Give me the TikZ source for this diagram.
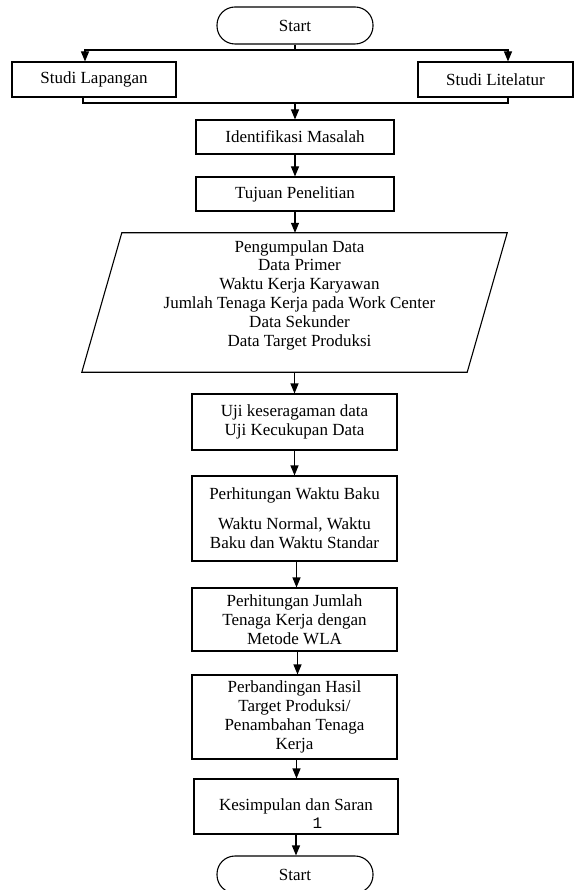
\documentclass[tikz,border=0pt]{standalone}
\usepackage{fontspec}
\setmainfont{Liberation Serif}
\newfontfamily\monofnt{Liberation Mono}
\usetikzlibrary{arrows.meta}
\begin{document}
\begin{tikzpicture}[x=1pt,y=-1pt,
  every node/.style={font=\fontsize{17}{18.8}\selectfont},
  box/.style={draw, line width=1.1pt, inner sep=0pt, align=center},
  term/.style={draw, line width=1.1pt, rounded corners=18pt, inner sep=0pt, minimum width=156pt, minimum height=37pt},
  arr/.style={line width=1.1pt, -{Triangle[length=10pt,width=8pt]}},
  ln/.style={line width=1.1pt}]
\useasboundingbox (0,0) rectangle (574,890);

\node[term] (start) at (295,25.5) {Start};
\node[box, minimum width=164pt, minimum height=35pt] (sl) at (94,79.5) {Studi Lapangan};
\node[box, minimum width=155pt, minimum height=35pt] (sr) at (495.5,79.5) {Studi Litelatur};
\node[box, minimum width=198pt, minimum height=34pt] (idm) at (295,137) {Identifikasi Masalah};
\node[box, minimum width=198pt, minimum height=34pt] (tuj) at (295,194) {Tujuan Penelitian};

\node[inner sep=0pt, minimum width=385pt, minimum height=139pt] (pd) at (294.5,302.5) {};
\draw[ln] ([xshift=20pt]pd.north west) -- ([xshift=20pt]pd.north east)
  -- ([xshift=-20pt]pd.south east) -- ([xshift=-20pt]pd.south west) -- cycle;
\node[align=center, inner sep=0pt] (pdt) at (299.5,295) {Pengumpulan Data\\Data Primer\\Waktu Kerja Karyawan\\Jumlah Tenaga Kerja pada Work Center\\Data Sekunder\\Data Target Produksi};

\node[box, minimum width=205pt, minimum height=56pt] (uji) at (294.5,422) {Uji keseragaman data\\Uji Kecukupan Data};
\node[box, minimum width=205pt, minimum height=85pt] (pwb) at (294.5,518.5) {Perhitungan Waktu Baku\\[11pt]Waktu Normal, Waktu\\Baku dan Waktu Standar};
\node[box, minimum width=205pt, minimum height=63pt] (pjt) at (294.5,619.5) {Perhitungan Jumlah\\Tenaga Kerja dengan\\Metode WLA};
\node[box, minimum width=205pt, minimum height=84pt] (pbh) at (294.5,717) {Perbandingan Hasil\\Target Produksi/\\Penambahan Tenaga\\Kerja};
\node[box, minimum width=204pt, minimum height=55pt] (kes) at (296,806.5) {Kesimpulan dan Saran};
\node[inner sep=0pt, font=\monofnt\fontsize{16}{18}\selectfont] (pgn) at (317.5,823) {1};
\node[term] (end) at (295,874.5) {Start};

\coordinate (split) at (295,50);
\coordinate (merge) at (295,103);
\draw[ln] (start.south) -- (split);
\draw[arr] (split) -| ([xshift=-9pt]sl.north);
\draw[arr] (split) -| ([xshift=12.5pt]sr.north);
\draw[ln] ([xshift=-11pt]sl.south) |- (merge) -| ([xshift=12.5pt]sr.south);
\draw[arr] (merge) -- (idm.north);
\draw[arr] (idm.south) -- (tuj.north);
\draw[arr] (tuj.south) -- (tuj.south |- pd.north);
\draw[arr] (pd.south) -- (pd.south |- uji.north);
\draw[arr] (uji.south) -- (pwb.north);
\draw[arr] ([xshift=2pt]pwb.south) -- ([xshift=2pt]pjt.north);
\draw[arr] ([xshift=3pt]pjt.south) -- ([xshift=3pt]pbh.north);
\draw[arr] ([xshift=2pt]pbh.south) -- ([xshift=2pt]pbh.south |- kes.north);
\draw[arr] (kes.south) -- (kes.south |- end.north);
\end{tikzpicture}
\end{document}
